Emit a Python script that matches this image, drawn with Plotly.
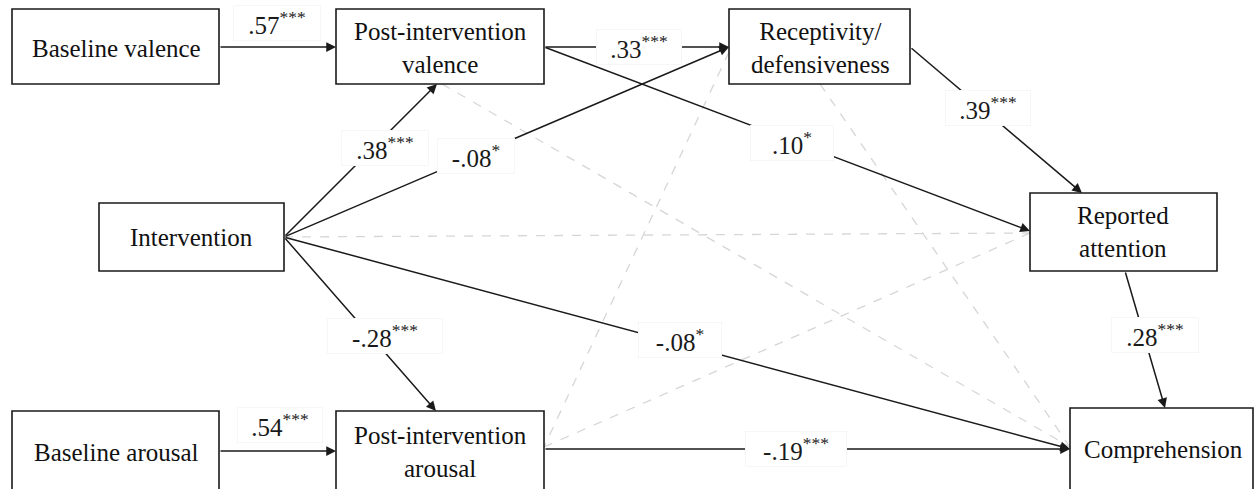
import plotly.graph_objects as go

# ---- data ----
node_ids = ["BV", "PV", "R", "I", "RA", "BA", "PA", "C"]
node_labels = ["Baseline valence", "Post-intervention<br>valence", "Receptivity/<br>defensiveness",
               "Intervention", "Reported<br>attention", "Baseline arousal",
               "Post-intervention<br>arousal", "Comprehension"]

path_from = ["BV", "PV", "I", "I", "PV", "R", "I", "I", "RA", "BA", "PA"]
path_to = ["PV", "R", "PV", "R", "RA", "RA", "PA", "C", "C", "PA", "C"]
path_coef = [".57", ".33", ".38", "-.08", ".10", ".39", "-.28", "-.08", ".28", ".54", "-.19"]
path_sig = ["***", "***", "***", "*", "*", "***", "***", "*", "***", "***", "***"]

ns_from = ["PV", "R", "R", "I", "PA"]
ns_to = ["C", "C", "PA", "RA", "RA"]

# ---- layout geometry (pixels) ----
W, H = 1257, 489
boxes = {
    "BV": (12, 9, 219, 84),
    "PV": (336, 9, 544, 84),
    "R": (729, 9, 910, 84),
    "I": (99, 203, 284, 271),
    "RA": (1030, 193, 1217, 271),
    "BA": (12, 411, 219, 540),
    "PA": (336, 411, 544, 540),
    "C": (1070, 408, 1253, 540),
}
text_pos = {
    "BV": (116, 48), "PV": (440, 48), "R": (820, 48), "I": (191, 237),
    "RA": (1123, 232), "BA": (116, 452), "PA": (440, 452), "C": (1163, 449),
}


def anchor(node, side, pos):
    x0, y0, x1, y1 = boxes[node]
    if side == "l":
        return (x0, pos)
    if side == "r":
        return (x1, pos)
    if side == "t":
        return (pos, y0)
    return (pos, y1)


path_src = [("r", 47), ("r", 47), ("r", 237), ("r", 237), ("r", 47), ("r", 47),
            ("r", 237), ("r", 237), ("b", 1125), ("r", 451), ("r", 449)]
path_dst = [("l", 47), ("l", 47), ("b", 437), ("l", 47), ("l", 231), ("t", 1082),
            ("t", 436), ("l", 449), ("t", 1165), ("l", 451), ("l", 449)]
label_pos = [(277, 23), (639, 47), (385, 148), (476, 156), (792, 143), (988, 108),
             (385, 336), (680, 340), (1155, 335), (280, 425), (796, 449)]
label_w = [84, 82, 84, 74, 80, 82, 112, 80, 84, 82, 98]

ns_src = [("b", 442), ("b", 820), ("l", 52), ("r", 237), ("r", 447)]
ns_dst = [("l", 447), ("l", 447), ("r", 447), ("l", 233), ("l", 233)]

FONT = "Liberation Serif"
INK = "#1a1a1a"

fig = go.Figure()
fig.add_trace(go.Scatter(x=[0, W], y=[0, H], mode="markers",
                         marker=dict(opacity=0), hoverinfo="skip", showlegend=False))

shapes = []
# non-significant dashed paths
for f, t, s, d in zip(ns_from, ns_to, ns_src, ns_dst):
    p0 = anchor(f, *s)
    p1 = anchor(t, *d)
    shapes.append(dict(type="line", xref="x", yref="y", x0=p0[0], y0=p0[1], x1=p1[0], y1=p1[1],
                       line=dict(color="#d6d6d6", width=1.3, dash="dash"), layer="below"))
# boxes
for n in node_ids:
    x0, y0, x1, y1 = boxes[n]
    shapes.append(dict(type="rect", xref="x", yref="y", x0=x0, y0=y0, x1=x1, y1=y1,
                       line=dict(color=INK, width=1.6), fillcolor="rgba(0,0,0,0)"))

annotations = []
# arrows
for f, t, s, d in zip(path_from, path_to, path_src, path_dst):
    p0 = anchor(f, *s)
    p1 = anchor(t, *d)
    annotations.append(dict(x=p1[0], y=p1[1], ax=p0[0], ay=p0[1], xref="x", yref="y",
                            axref="x", ayref="y", text="", showarrow=True, arrowhead=2,
                            arrowsize=1.3, arrowwidth=1.5, arrowcolor=INK, standoff=0))
# coefficient labels
for c, sg, (lx, ly), w in zip(path_coef, path_sig, label_pos, label_w):
    annotations.append(dict(x=lx, y=ly, xref="x", yref="y", showarrow=False,
                            text=f"{c}<sup>{sg}</sup>", width=w, height=32,
                            bgcolor="white", bordercolor="#f6f6f6", borderwidth=1,
                            font=dict(family=FONT, size=25, color=INK)))
# node labels
for n, lab in zip(node_ids, node_labels):
    tx, ty = text_pos[n]
    annotations.append(dict(x=tx, y=ty, xref="x", yref="y", showarrow=False, text=lab,
                            font=dict(family=FONT, size=25, color="#111111")))

fig.update_layout(
    width=W, height=H, margin=dict(l=0, r=0, t=0, b=0),
    paper_bgcolor="white", plot_bgcolor="white",
    font=dict(family=FONT),
    xaxis=dict(range=[0, W], visible=False, fixedrange=True),
    yaxis=dict(range=[H, 0], visible=False, fixedrange=True),
    shapes=shapes, annotations=annotations, showlegend=False,
)
fig.write_html("out.html", config={"displayModeBar": False},
               post_script="document.body.style.margin='0';document.body.style.overflow='hidden';")
